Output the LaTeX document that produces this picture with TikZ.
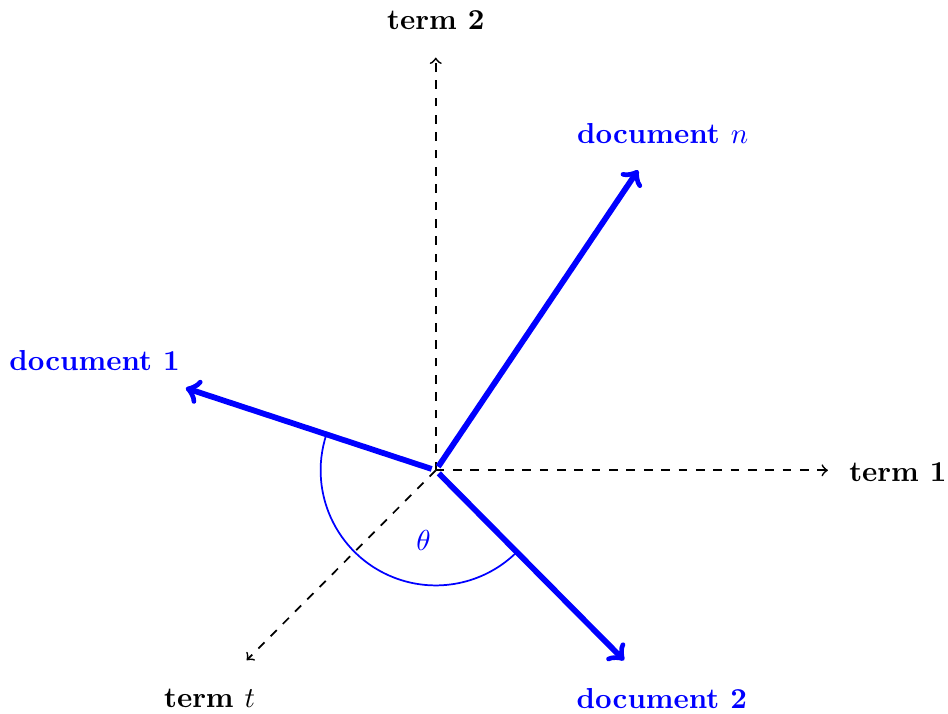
\documentclass[tikz,border=0pt]{standalone}
\usetikzlibrary{arrows, positioning, calc}
\tikzset{
    axis/.style = {semithick, dashed, ->},
    docvec/.style = {line width=2pt, blue, ->, shorten <=1.5pt},
    termlabel/.style = {font=\bfseries, text=black},
    doclabel/.style = {font=\bfseries, text=blue}
}
\begin{document}
\begin{tikzpicture}
\useasboundingbox (-5.30,-2.96) rectangle (6.23,5.72);

% --- ORIGIN & AXIS ENDS ---
\coordinate (O) at (0,0);
\coordinate (t1) at (4.77,0);
\coordinate (t2) at (0,5.02);
\coordinate (tt) at (-2.30,-2.31);

% --- DOCUMENT ENDS ---
\coordinate (d1) at (-3.04,1.00);
\coordinate (d2) at (2.29,-2.31);
\coordinate (dn) at (2.46,3.65);

% --- AXES ---
\draw [axis] (O) -- (t1);
\draw [axis] (O) -- (t2);
\draw [axis] (O) -- (tt);

% --- ANGLE ---
\draw [blue, semithick] ($(O)+(161.8:1.4)$) arc (161.8:314.7:1.4);
\node (theta) [text=blue] at (-0.15,-0.85) {$\theta$};

% --- DOCUMENT VECTORS ---
\draw [docvec] (O) -- (d1);
\draw [docvec] (O) -- (d2);
\draw [docvec] (O) -- (dn);

% --- LABELS ---
\node (lt1) [termlabel] at (5.62,-0.02) {term 1};
\node (lt2) [termlabel] at (0,5.47) {term 2};
\node (ltt) [termlabel] at (-2.75,-2.77) {term $t$};
\node (ld1) [doclabel] at (-4.15,1.34) {document 1};
\node (ld2) [doclabel] at (2.75,-2.77) {document 2};
\node (ldn) [doclabel] at (2.76,4.10) {document $n$};

\end{tikzpicture}
\end{document}
